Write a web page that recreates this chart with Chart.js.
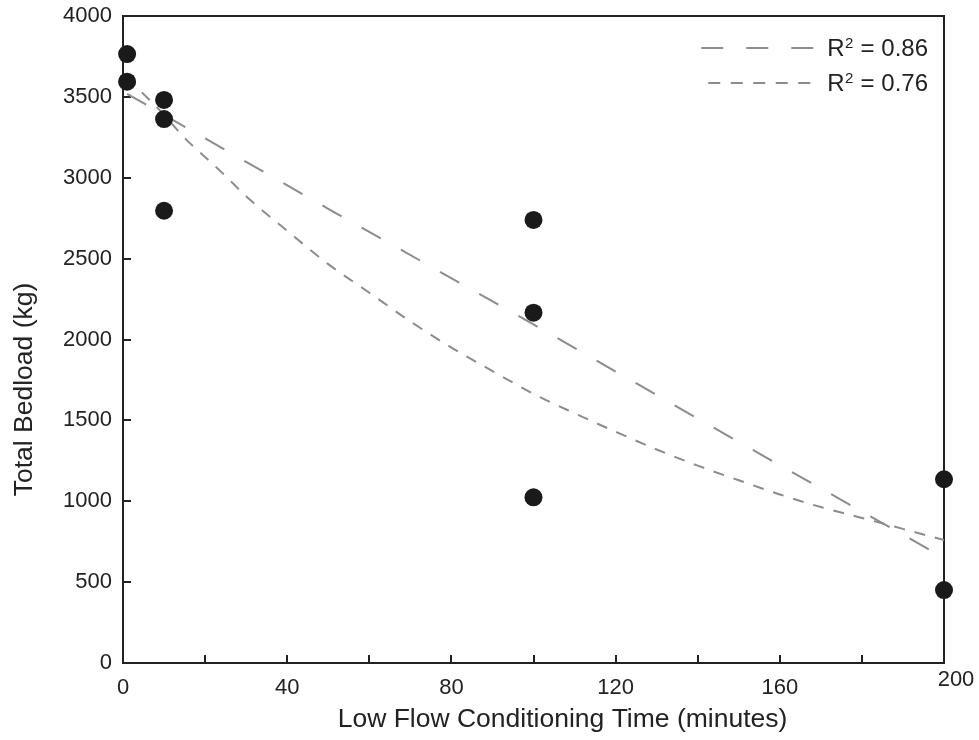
<!DOCTYPE html>
<html>
<head>
<meta charset="utf-8">
<script src="https://cdn.jsdelivr.net/npm/chart.js@4.4.1/dist/chart.umd.min.js"></script>
<style>
  html, body { margin: 0; padding: 0; background: #ffffff; }
  #wrap { width: 979px; height: 740px; }
</style>
</head>
<body>
<div id="wrap"><canvas id="c" width="979" height="740"></canvas></div>
<script>
// ---- data ----
const xTime      = [1, 1, 10, 10, 10, 100, 100, 100, 200, 200];
const yBedload   = [3765, 3594, 3481, 3363, 2796, 2739, 2166, 1024, 1136, 451];

const fitLinearX = [1, 50, 100, 150, 200];
const fitLinearY = [3519, 2808, 2093, 1366, 650];

const fitCurveX  = [1, 5, 10, 15, 20, 25, 30, 40, 50, 60, 70, 80, 90, 100, 110, 120, 130, 140, 150, 160, 170, 180, 190, 200];
const fitCurveY  = [3620, 3518, 3389, 3246, 3128, 3010, 2885, 2672, 2466, 2289, 2112, 1950, 1805, 1664, 1544, 1430, 1320, 1220, 1130, 1042, 964, 897, 829, 760];

const legendLabels = ['R\u00B2 = 0.86', 'R\u00B2 = 0.76'];
const legendParts = [['R', '2', ' = 0.86'], ['R', '2', ' = 0.76']];
const xTitle = 'Low Flow Conditioning Time (minutes)';
const yTitle = 'Total Bedload (kg)';
const xTickStep = 20, xLabelStep = 40, xMax = 200;
const yTickStep = 500, yMax = 4000;

const FONT = "'Liberation Sans', Arial, Helvetica, sans-serif";
const AXIS = '#222222';
const FITC = '#8c8c8c';

const toXY = (xs, ys) => xs.map((x, i) => ({ x: x, y: ys[i] }));

const decorPlugin = {
  id: 'decor',
  beforeDatasetsDraw(chart) {
    const { ctx, chartArea: a, scales: { x, y } } = chart;
    ctx.save();
    ctx.strokeStyle = AXIS;
    ctx.lineWidth = 2;
    ctx.setLineDash([]);
    ctx.beginPath();
    ctx.moveTo(a.left, a.top);
    ctx.lineTo(a.right, a.top);
    ctx.lineTo(a.right, a.bottom);
    ctx.stroke();
    ctx.beginPath();
    for (let v = 0; v <= yMax; v += yTickStep) {
      const p = Math.round(y.getPixelForValue(v));
      ctx.moveTo(a.left, p);
      ctx.lineTo(a.left + 8, p);
    }
    for (let v = xTickStep; v < xMax; v += xTickStep) {
      const p = Math.round(x.getPixelForValue(v));
      ctx.moveTo(p, a.bottom);
      ctx.lineTo(p, a.bottom - 8);
    }
    ctx.stroke();
    ctx.restore();
  },
  afterDraw(chart) {
    const { ctx, chartArea: a, scales: { x, y } } = chart;
    ctx.save();
    ctx.fillStyle = AXIS;
    ctx.font = '22px ' + FONT;
    ctx.textAlign = 'center';
    ctx.textBaseline = 'middle';
    ctx.fillText(String(xMax), x.getPixelForValue(xMax) + 12, a.bottom + 17);

    // axis titles
    ctx.font = '26.5px ' + FONT;
    ctx.fillText(xTitle, (a.left + a.right) / 2 + 29, 720);
    ctx.save();
    ctx.translate(25, (a.top + a.bottom) / 2 + 50);
    ctx.rotate(-Math.PI / 2);
    ctx.fillText(yTitle, 0, 0);
    ctx.restore();

    // legend
    const textRight = a.right - 16;
    const rows = [
      { parts: legendParts[0], y: a.top + 31, dash: [22, 23], len: 112, gap: 14 },
      { parts: legendParts[1], y: a.top + 66, dash: [12, 10.5], len: 102, gap: 17 }
    ];
    ctx.textAlign = 'left';
    ctx.textBaseline = 'alphabetic';
    rows.forEach(r => {
      const big = '24px ' + FONT, small = '15px ' + FONT;
      ctx.font = big;  const w0 = ctx.measureText(r.parts[0]).width;
      ctx.font = small; const w1 = ctx.measureText(r.parts[1]).width;
      ctx.font = big;  const w2 = ctx.measureText(r.parts[2]).width;
      const total = w0 + w1 + 1 + w2;
      const left = textRight - total;
      const base = r.y + 8.5;
      ctx.fillStyle = AXIS;
      ctx.font = big;   ctx.fillText(r.parts[0], left, base);
      ctx.font = small; ctx.fillText(r.parts[1], left + w0 + 0.5, base - 8);
      ctx.font = big;   ctx.fillText(r.parts[2], left + w0 + w1 + 1, base);
      const end = left - r.gap;
      ctx.strokeStyle = FITC;
      ctx.lineWidth = 2;
      ctx.setLineDash(r.dash);
      ctx.beginPath();
      ctx.moveTo(end - r.len, r.y + 1);
      ctx.lineTo(end, r.y + 1);
      ctx.stroke();
    });
    ctx.restore();
  }
};

new Chart(document.getElementById('c'), {
  type: 'scatter',
  data: {
    datasets: [
      {
        label: legendLabels[0],
        data: toXY(fitLinearX, fitLinearY),
        showLine: true,
        borderColor: FITC,
        borderWidth: 2,
        borderDash: [22, 23],
        pointRadius: 0,
        pointHoverRadius: 0,
        fill: false,
        order: 2
      },
      {
        label: legendLabels[1],
        data: toXY(fitCurveX, fitCurveY),
        showLine: true,
        borderColor: FITC,
        borderWidth: 2,
        borderDash: [11, 10],
        cubicInterpolationMode: 'monotone',
        pointRadius: 0,
        pointHoverRadius: 0,
        fill: false,
        order: 1
      },
      {
        label: 'Observed',
        data: toXY(xTime, yBedload),
        backgroundColor: '#1a1a1a',
        borderColor: '#1a1a1a',
        borderWidth: 0,
        pointRadius: 9,
        pointHoverRadius: 9,
        clip: false,
        order: 0
      }
    ]
  },
  options: {
    responsive: false,
    animation: false,
    devicePixelRatio: 1,
    layout: { padding: { left: 0, right: 35, top: 16, bottom: 0 } },
    plugins: { legend: { display: false }, tooltip: { enabled: false }, title: { display: false } },
    events: [],
    scales: {
      x: {
        type: 'linear',
        min: 0,
        max: xMax,
        ticks: {
          stepSize: xTickStep,
          autoSkip: false,
          maxRotation: 0,
          padding: 12,
          color: AXIS,
          font: { family: FONT, size: 22 },
          callback: v => (v % xLabelStep === 0 && v !== xMax) ? String(v) : ''
        },
        grid: { display: false, drawTicks: false },
        border: { display: true, color: AXIS, width: 2 },
        afterFit: s => { s.height = 77; s.paddingLeft = 0; s.paddingRight = 0; }
      },
      y: {
        type: 'linear',
        min: 0,
        max: yMax,
        ticks: {
          stepSize: yTickStep,
          autoSkip: false,
          padding: 11,
          color: AXIS,
          font: { family: FONT, size: 22 },
          callback: v => String(v)
        },
        grid: { display: false, drawTicks: false },
        border: { display: true, color: AXIS, width: 2 },
        afterFit: s => { s.width = 123; s.paddingTop = 0; s.paddingBottom = 0; }
      }
    }
  },
  plugins: [decorPlugin]
});
</script>
</body>
</html>
